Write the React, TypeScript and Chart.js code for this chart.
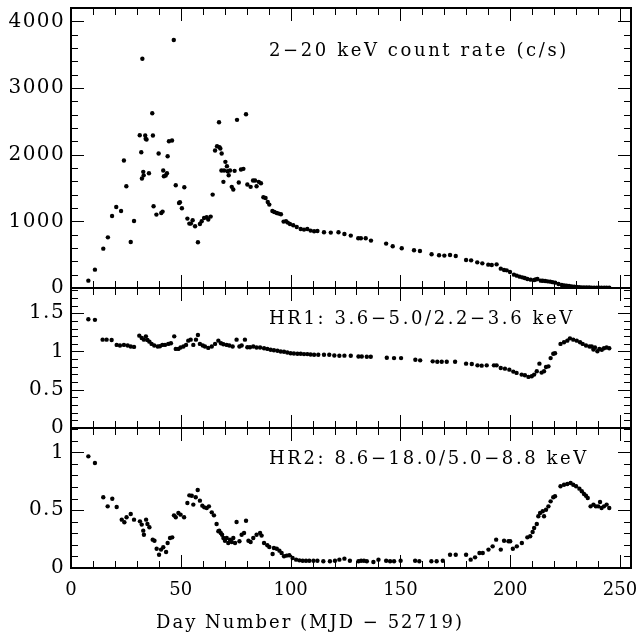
import React, { useEffect, useRef } from 'react';
import { Chart, registerables } from 'chart.js';

Chart.register(...registerables);

// ---- Data ----
const countDays = [7.9, 10.9, 14.7, 16.8, 18.7, 20.6, 22.8, 24.1, 25.2, 27.2, 28.7, 31.3, 32.0, 32.3, 32.5, 32.9, 33.1, 33.8, 34.0, 34.4, 35.5, 37.0, 37.3, 37.6, 38.9, 39.9, 41.1, 41.7, 42.0, 42.3, 43.1, 43.7, 44.0, 44.6, 46.0, 46.8, 47.7, 49.2, 49.6, 50.5, 51.6, 53.0, 53.9, 54.6, 55.4, 56.5, 57.8, 58.7, 59.5, 60.6, 61.8, 62.5, 63.6, 64.5, 65.6, 66.5, 67.4, 67.6, 68.0, 68.5, 68.6, 69.4, 69.7, 70.3, 71.0, 71.3, 71.8, 72.4, 73.2, 73.9, 74.5, 75.6, 76.4, 77.4, 78.5, 79.7, 80.3, 81.8, 82.9, 83.8, 84.5, 85.5, 86.5, 87.6, 88.6, 89.6, 90.3, 91.7, 92.6, 93.7, 94.6, 95.6, 96.8, 97.9, 98.7, 99.7, 101.2, 102.8, 104.6, 106.1, 107.6, 109.1, 110.7, 112.2, 115.2, 118.3, 121.8, 124.5, 127.4, 130.8, 132.0, 134.2, 136.6, 143.5, 146.5, 150.6, 156.2, 158.9, 164.2, 167.6, 170.0, 172.6, 175.2, 179.9, 182.2, 185.0, 187.3, 190.0, 191.6, 193.8, 195.7, 197.2, 198.4, 199.9, 201.7, 203.0, 204.3, 205.5, 206.6, 207.8, 209.3, 210.9, 211.6, 212.4, 213.9, 214.8, 215.9, 217.0, 218.2, 219.3, 220.5, 222.0, 223.5, 224.6, 225.7, 226.8, 228.0, 229.2, 230.3, 231.4, 232.5, 233.6, 234.8, 236.0, 237.1, 238.2, 239.4, 240.5, 241.6, 242.8, 243.9, 245.1];
const countRate = [110, 275, 590, 760, 1081, 1216, 1156, 1912, 1527, 690, 1006, 2292, 2037, 1642, 3438, 1742, 1690, 2287, 2237, 2227, 1722, 2622, 2287, 1226, 1101, 2017, 1126, 1146, 1762, 1677, 1687, 1722, 1977, 2202, 2212, 3719, 1542, 1276, 1286, 1196, 1512, 1041, 966, 966, 1016, 926, 686, 961, 1001, 1051, 1061, 1026, 1071, 1401, 2062, 2127, 2487, 2112, 2092, 1762, 2017, 1592, 1762, 1892, 1827, 1752, 1692, 1762, 1517, 1477, 1757, 2522, 1582, 1777, 1787, 2607, 1552, 1517, 1612, 1612, 1527, 1592, 1572, 1361, 1351, 1291, 1251, 1156, 1141, 1126, 1116, 1106, 996, 1001, 981, 961, 941, 916, 886, 876, 886, 861, 851, 856, 836, 831, 836, 811, 786, 746, 746, 746, 711, 666, 626, 596, 566, 556, 506, 491, 486, 496, 481, 420, 415, 385, 370, 350, 345, 355, 290, 270, 265, 240, 200, 185, 170, 160, 150, 135, 125, 120, 128, 135, 110, 108, 105, 100, 95, 88, 80, 60, 45, 40, 35, 30, 25, 20, 15, 12, 10, 10, 10, 8, 5, 5, 5, 5, 5, 5, 5, 5, 5];

const hr1Days = [7.9, 10.9, 14.4, 16.2, 18.5, 20.8, 22.3, 24.1, 25.8, 27.2, 28.7, 31.1, 32.2, 33.2, 34.1, 34.8, 35.7, 36.7, 37.9, 39.5, 40.5, 41.6, 42.8, 44.3, 45.5, 47.0, 47.7, 48.9, 49.9, 51.2, 52.4, 53.4, 54.5, 55.7, 56.9, 57.8, 58.7, 60.0, 61.0, 62.5, 64.1, 65.6, 67.1, 68.3, 69.4, 70.9, 72.1, 73.6, 75.4, 76.7, 77.7, 79.2, 80.3, 81.5, 83.0, 84.5, 86.1, 87.9, 89.4, 90.9, 92.4, 94.0, 95.5, 97.0, 98.5, 100.0, 101.5, 103.1, 104.6, 106.1, 107.6, 109.1, 110.7, 112.6, 115.2, 117.6, 119.9, 122.2, 124.5, 127.4, 130.9, 132.4, 134.7, 136.5, 143.8, 147.1, 150.3, 156.8, 159.0, 164.7, 166.8, 168.8, 171.1, 174.9, 179.9, 182.5, 185.1, 187.0, 189.3, 192.6, 193.8, 195.7, 197.6, 199.6, 201.4, 202.9, 205.2, 206.7, 208.3, 209.8, 210.9, 212.1, 213.3, 214.3, 215.4, 216.3, 217.4, 218.4, 219.6, 220.4, 222.9, 224.5, 226.0, 227.2, 228.7, 230.3, 231.8, 233.0, 234.5, 236.1, 237.1, 237.9, 238.6, 239.7, 240.6, 241.7, 242.7, 243.9, 245.1];
const hr1 = [1.422, 1.414, 1.155, 1.155, 1.151, 1.086, 1.078, 1.086, 1.078, 1.065, 1.06, 1.207, 1.177, 1.155, 1.198, 1.151, 1.129, 1.099, 1.078, 1.065, 1.069, 1.086, 1.086, 1.099, 1.108, 1.198, 1.034, 1.034, 1.052, 1.065, 1.086, 1.142, 1.155, 1.086, 1.155, 1.216, 1.099, 1.078, 1.065, 1.047, 1.065, 1.099, 1.142, 1.108, 1.095, 1.086, 1.078, 1.065, 1.155, 1.065, 1.078, 1.155, 1.056, 1.056, 1.065, 1.052, 1.052, 1.043, 1.034, 1.022, 1.017, 1.009, 1.0, 0.996, 0.987, 0.978, 0.974, 0.97, 0.97, 0.966, 0.966, 0.961, 0.957, 0.957, 0.957, 0.957, 0.948, 0.944, 0.946, 0.944, 0.935, 0.935, 0.931, 0.931, 0.918, 0.914, 0.914, 0.892, 0.884, 0.871, 0.866, 0.866, 0.866, 0.866, 0.841, 0.836, 0.819, 0.815, 0.819, 0.819, 0.819, 0.784, 0.776, 0.763, 0.737, 0.72, 0.698, 0.69, 0.668, 0.677, 0.698, 0.741, 0.841, 0.724, 0.741, 0.797, 0.806, 0.914, 0.97, 0.978, 1.099, 1.121, 1.142, 1.172, 1.155, 1.142, 1.121, 1.099, 1.078, 1.065, 1.065, 1.026, 1.052, 1.004, 1.034, 1.022, 1.043, 1.052, 1.043];

const hr2Days = [7.9, 10.9, 14.7, 16.7, 18.8, 20.8, 23.1, 24.3, 25.3, 27.2, 28.7, 31.4, 32.2, 32.9, 33.2, 34.2, 34.8, 35.7, 37.2, 38.0, 39.0, 40.1, 41.0, 42.0, 43.3, 44.0, 45.1, 46.1, 46.9, 47.7, 48.9, 49.9, 51.5, 53.0, 53.9, 55.0, 55.7, 56.8, 57.7, 58.7, 59.8, 60.7, 61.8, 62.8, 64.1, 65.1, 66.3, 67.1, 67.5, 68.2, 68.8, 69.4, 70.1, 70.9, 71.6, 72.4, 73.2, 73.9, 74.7, 75.4, 76.7, 77.7, 78.8, 79.7, 80.8, 81.8, 83.0, 84.5, 86.1, 86.8, 87.9, 89.4, 90.3, 91.8, 92.4, 93.7, 94.9, 95.9, 97.0, 98.2, 99.4, 100.9, 102.5, 104.0, 105.5, 107.0, 108.5, 110.4, 112.2, 114.9, 117.9, 120.2, 122.2, 124.5, 127.0, 130.9, 132.1, 133.4, 134.7, 137.7, 140.0, 143.5, 145.3, 147.1, 150.1, 156.7, 158.6, 164.1, 166.5, 169.3, 172.6, 175.2, 179.9, 182.0, 184.0, 186.0, 187.5, 190.1, 192.0, 193.6, 195.7, 197.2, 199.2, 200.0, 201.2, 203.0, 205.3, 207.8, 209.1, 210.2, 210.9, 212.1, 212.8, 213.6, 214.8, 215.4, 216.3, 217.4, 218.4, 219.6, 220.4, 222.9, 224.5, 226.0, 227.5, 228.7, 230.0, 231.5, 232.6, 233.6, 234.5, 235.3, 236.6, 237.9, 239.0, 240.1, 240.9, 241.6, 242.7, 243.9, 245.1];
const hr2 = [0.965, 0.908, 0.611, 0.533, 0.599, 0.527, 0.418, 0.395, 0.438, 0.467, 0.418, 0.403, 0.375, 0.323, 0.288, 0.418, 0.38, 0.352, 0.245, 0.236, 0.167, 0.115, 0.159, 0.179, 0.138, 0.216, 0.259, 0.265, 0.455, 0.438, 0.476, 0.461, 0.438, 0.562, 0.628, 0.625, 0.548, 0.611, 0.674, 0.582, 0.539, 0.524, 0.519, 0.533, 0.481, 0.455, 0.38, 0.317, 0.323, 0.303, 0.288, 0.259, 0.236, 0.259, 0.216, 0.245, 0.225, 0.259, 0.216, 0.398, 0.231, 0.288, 0.303, 0.409, 0.236, 0.225, 0.259, 0.288, 0.303, 0.28, 0.216, 0.196, 0.182, 0.121, 0.173, 0.167, 0.15, 0.13, 0.101, 0.107, 0.11, 0.086, 0.072, 0.066, 0.063, 0.063, 0.063, 0.063, 0.063, 0.058, 0.058, 0.063, 0.072, 0.081, 0.063, 0.058, 0.063, 0.063, 0.058, 0.052, 0.072, 0.063, 0.058, 0.058, 0.063, 0.063, 0.058, 0.058, 0.058, 0.063, 0.115, 0.115, 0.115, 0.072, 0.092, 0.13, 0.13, 0.159, 0.187, 0.245, 0.159, 0.236, 0.231, 0.231, 0.167, 0.187, 0.216, 0.265, 0.274, 0.311, 0.346, 0.38, 0.447, 0.476, 0.49, 0.447, 0.504, 0.533, 0.576, 0.611, 0.62, 0.706, 0.72, 0.726, 0.735, 0.72, 0.706, 0.686, 0.663, 0.64, 0.625, 0.605, 0.533, 0.548, 0.533, 0.533, 0.571, 0.519, 0.533, 0.548, 0.519];

// ---- Tick labels ----
const dayTicks = [0, 50, 100, 150, 200, 250];
const countTicks = [0, 1000, 2000, 3000, 4000];
const hr1Ticks = [0, 0.5, 1, 1.5];
const hr2Ticks = [0, 0.5, 1];

const panelLabels = [
  '2\u221220 keV count rate (c/s)',
  'HR1: 3.6\u22125.0/2.2\u22123.6 keV',
  'HR2: 8.6\u221218.0/5.0\u22128.8 keV',
];
const xTitle = 'Day Number (MJD \u2212 52719)';

const FONT = '"DejaVu Serif", "Liberation Serif", serif';

const toPts = (xs: number[], ys: number[]) => xs.map((x, i) => ({ x, y: ys[i] }));

const panels = [
  { id: 'yC', minor: 200, major: 1000 },
  { id: 'yH1', minor: 0.1, major: 0.5 },
  { id: 'yH2', minor: 0.1, major: 0.5 },
];

const framePlugin = {
  id: 'frameTicks',
  afterDatasetsDraw(chart: any) {
    const ctx = chart.ctx;
    const xs = chart.scales.x;
    const left = chart.chartArea.left;
    const right = chart.chartArea.right;
    ctx.save();
    ctx.strokeStyle = '#000';
    panels.forEach((p, idx) => {
      const s = chart.scales[p.id];
      const top = s.top;
      const bottom = s.bottom;
      ctx.lineWidth = 1;
      ctx.beginPath();
      for (let i = 0; i * 10 <= xs.max + 1e-9; i++) {
        const v = i * 10;
        const px = Math.round(xs.getPixelForValue(v)) + 0.5;
        const len = v % 50 === 0 ? 13 : 7;
        ctx.moveTo(px, bottom);
        ctx.lineTo(px, bottom - len);
        ctx.moveTo(px, top);
        ctx.lineTo(px, top + len);
      }
      const n = Math.floor(s.max / p.minor + 1e-6);
      for (let i = 0; i <= n; i++) {
        const v = i * p.minor;
        const py = Math.round(s.getPixelForValue(v)) + 0.5;
        const r = v / p.major;
        const isMajor = Math.abs(r - Math.round(r)) < 1e-6;
        const len = isMajor ? 13 : 7;
        ctx.moveTo(left, py);
        ctx.lineTo(left + len, py);
        ctx.moveTo(right, py);
        ctx.lineTo(right - len, py);
      }
      ctx.stroke();
      ctx.lineWidth = 2;
      ctx.strokeRect(left, top, right - left, bottom - top);

      ctx.fillStyle = '#000';
      ctx.font = `18px ${FONT}`;
      (ctx as any).letterSpacing = '2.6px';
      ctx.textAlign = 'left';
      ctx.textBaseline = 'middle';
      ctx.fillText(panelLabels[idx], 269, top + (idx === 0 ? 43 : 31));
    });
    ctx.font = `18px ${FONT}`;
    (ctx as any).letterSpacing = '2px';
    ctx.textAlign = 'center';
    ctx.textBaseline = 'alphabetic';
    ctx.fillText(xTitle, 310, 628);
    (ctx as any).letterSpacing = '0px';
    ctx.restore();
  },
};

const fixedTicks = (vals: number[]) => (s: any) => {
  s.ticks = vals.map((value) => ({ value }));
};

const spacedLabels = (spacing: string) => (s: any) => {
  if (s._spacedWrapped) return;
  const orig = s.drawLabels.bind(s);
  s.drawLabels = (area: any) => {
    const c = s.ctx as any;
    const prev = c.letterSpacing;
    c.letterSpacing = spacing;
    orig(area);
    c.letterSpacing = prev || '0px';
  };
  s._spacedWrapped = true;
};

const yAxis = (weight: number, max: number, vals: number[]) => ({
  type: 'linear' as const,
  position: 'left' as const,
  stack: 'panels',
  stackWeight: weight,
  min: 0,
  max,
  grid: { display: false, drawTicks: false },
  border: { display: false },
  afterBuildTicks: fixedTicks(vals),
  afterUpdate: spacedLabels('1.4px'),
  ticks: {
    padding: 6,
    autoSkip: false,
    color: '#000',
    font: { family: FONT, size: 20 },
    callback: (v: any) => String(Math.round(Number(v) * 100) / 100),
  },
  afterFit: (s: any) => {
    s.width = 71;
    s.paddingTop = 0;
    s.paddingBottom = 0;
  },
});

export default function App() {
  const ref = useRef<HTMLCanvasElement | null>(null);
  useEffect(() => {
    if (!ref.current) return;
    const chart = new Chart(ref.current, {
      type: 'scatter',
      data: {
        datasets: [
          { data: toPts(countDays, countRate), yAxisID: 'yC', xAxisID: 'x' },
          { data: toPts(hr1Days, hr1), yAxisID: 'yH1', xAxisID: 'x' },
          { data: toPts(hr2Days, hr2), yAxisID: 'yH2', xAxisID: 'x' },
        ].map((d) => ({
          ...d,
          pointRadius: 2.2,
          pointBackgroundColor: '#000',
          pointBorderWidth: 0,
          pointHoverRadius: 2.2,
          showLine: false,
        })),
      },
      options: {
        animation: false,
        responsive: false,
        events: [],
        layout: { padding: { top: 8, right: 10, left: 0, bottom: 0 } },
        plugins: { legend: { display: false }, tooltip: { enabled: false }, title: { display: false } },
        scales: {
          x: {
            type: 'linear',
            position: 'bottom',
            min: 0,
            max: 255,
            grid: { display: false, drawTicks: false },
            border: { display: false },
            afterBuildTicks: fixedTicks(dayTicks),
            ticks: {
              maxRotation: 0,
              autoSkip: false,
              padding: 12,
              color: '#000',
              font: { family: FONT, size: 18 },
              callback: (v: any) => String(v),
            },
            afterFit: (s: any) => {
              s.height = 67;
              s.paddingLeft = 0;
              s.paddingRight = 0;
            },
          },
          yH2: yAxis(1, 1.21, hr2Ticks),
          yH1: yAxis(1, 1.83, hr1Ticks),
          yC: yAxis(2, 4200, countTicks),
        },
      } as any,
      plugins: [framePlugin],
    });
    return () => chart.destroy();
  }, []);
  return (
    <div style={{ position: 'absolute', left: 0, top: 0, width: 641, height: 635, background: '#fff' }}>
      <canvas ref={ref} width={641} height={635} style={{ display: 'block' }} />
    </div>
  );
}
